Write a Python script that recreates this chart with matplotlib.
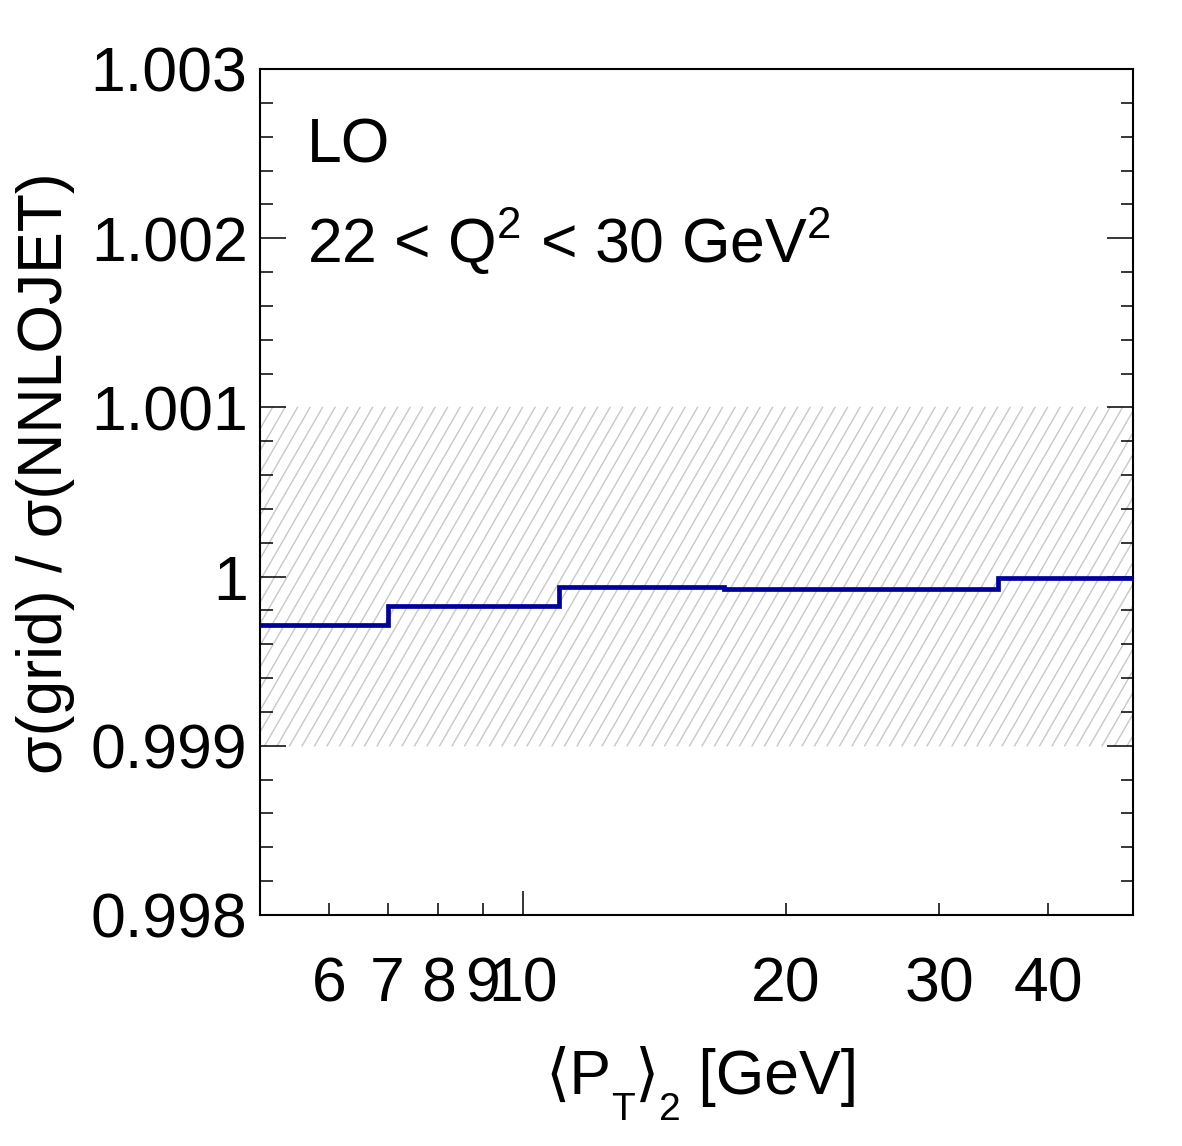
import numpy as np
import matplotlib
matplotlib.use("Agg")
import matplotlib.pyplot as plt
import matplotlib.transforms as mtransforms
from matplotlib.ticker import FixedLocator, FixedFormatter

# bin edges in <P_T>_2 [GeV] and ratio grid / NNLOJET per bin
bin_edges = [5, 7, 11, 17, 35, 50]
ratio = [0.999712, 0.999824, 0.999936, 0.999925, 0.999990]
band_lo, band_hi = 0.999, 1.001

y_major = [0.998, 0.999, 1.0, 1.001, 1.002, 1.003]
y_labels = ["0.998", "0.999", "1", "1.001", "1.002", "1.003"]
x_major = [10]
x_minor = [6, 7, 8, 9, 20, 30, 40]
x_minor_labels = ["6", "7", "8", "9", "20", "30", "40"]

plt.rcParams["font.family"] = ["Liberation Sans", "DejaVu Sans"]
plt.rcParams["mathtext.fontset"] = "custom"
plt.rcParams["mathtext.rm"] = "Liberation Sans"
plt.rcParams["mathtext.it"] = "Liberation Sans:italic"
plt.rcParams["mathtext.bf"] = "Liberation Sans:bold"

W, H = 1182, 1146
fig = plt.figure(figsize=(W / 100, H / 100), dpi=100)
ax_l, ax_r, ax_t, ax_b = 260, 1133, 69, 915
ax = fig.add_axes([ax_l / W, (H - ax_b) / H, (ax_r - ax_l) / W, (ax_b - ax_t) / H])

ax.set_xscale("log")
ax.set_xlim(bin_edges[0], bin_edges[-1])
ax.set_ylim(0.998, 1.003)

# hatched tolerance band, lines at ~60 degrees
ax_w_px = ax_r - ax_l
ax_h_px = ax_b - ax_t
band_px = (band_hi - band_lo) / 0.005 * ax_h_px
dx_frac = band_px / np.tan(np.radians(60)) / ax_w_px
spacing = 12.5 / ax_w_px
trans = mtransforms.blended_transform_factory(ax.transAxes, ax.transData)
for x0 in np.arange(-dx_frac - spacing, 1.0 + spacing, spacing):
    ax.plot([x0, x0 + dx_frac], [band_lo, band_hi], color="#c8c8c8", lw=1.0,
            transform=trans, clip_on=True, zorder=1)

ax.stairs(ratio, bin_edges, baseline=None, color="#0000a0", lw=3.4, zorder=3)

# ticks
ax.yaxis.set_major_locator(FixedLocator(y_major))
ax.yaxis.set_major_formatter(FixedFormatter(y_labels))
ax.yaxis.set_minor_locator(FixedLocator(np.arange(0.998, 1.0031, 0.0002)))
ax.xaxis.set_major_locator(FixedLocator(x_major))
ax.xaxis.set_major_formatter(FixedFormatter(["10"]))
ax.xaxis.set_minor_locator(FixedLocator(x_minor))
ax.xaxis.set_minor_formatter(FixedFormatter(x_minor_labels))

ax.tick_params(axis="y", which="both", direction="in", left=True, right=True,
               labelsize=45, pad=9, width=1.1)
ax.tick_params(axis="y", which="major", length=18.5)
ax.tick_params(axis="y", which="minor", length=9)
ax.tick_params(axis="x", which="both", direction="in", bottom=True, top=False,
               labelsize=45, pad=29, width=1.1)
ax.tick_params(axis="x", which="major", length=17.5)
ax.tick_params(axis="x", which="minor", length=8.5)
for s in ax.spines.values():
    s.set_linewidth(1.5)

ax.text(-0.246, 0.522, "σ(grid) / σ(NNLOJET)", transform=ax.transAxes,
        rotation=90, ha="center", va="center", fontsize=45)

# x title built from pieces, ROOT-like low subscripts
base_y = (ax_b - 1094) / ax_h_px
sub_y = (ax_b - 1120) / ax_h_px
prev = ax.text((545 - ax_l) / ax_w_px, base_y, "\u27e8P", transform=ax.transAxes,
               ha="left", va="baseline", fontsize=45)
for piece, y, size in [("T", sub_y, 28), ("\u27e9", base_y, 45),
                       ("2", sub_y, 28), (" [GeV]", base_y, 45)]:
    prev = ax.annotate(piece, xy=(1, y), xycoords=(prev, ax.transAxes),
                       ha="left", va="baseline", fontsize=size,
                       annotation_clip=False)

ax.text(0.0538, 0.890, "LO", transform=ax.transAxes, ha="left",
        va="baseline", fontsize=45)
ax.text(0.0538, 0.7707, r"22 < Q$^{2}$ < 30 GeV$^{2}$", transform=ax.transAxes,
        ha="left", va="baseline", fontsize=45)

fig.savefig("out.png", dpi=100)
